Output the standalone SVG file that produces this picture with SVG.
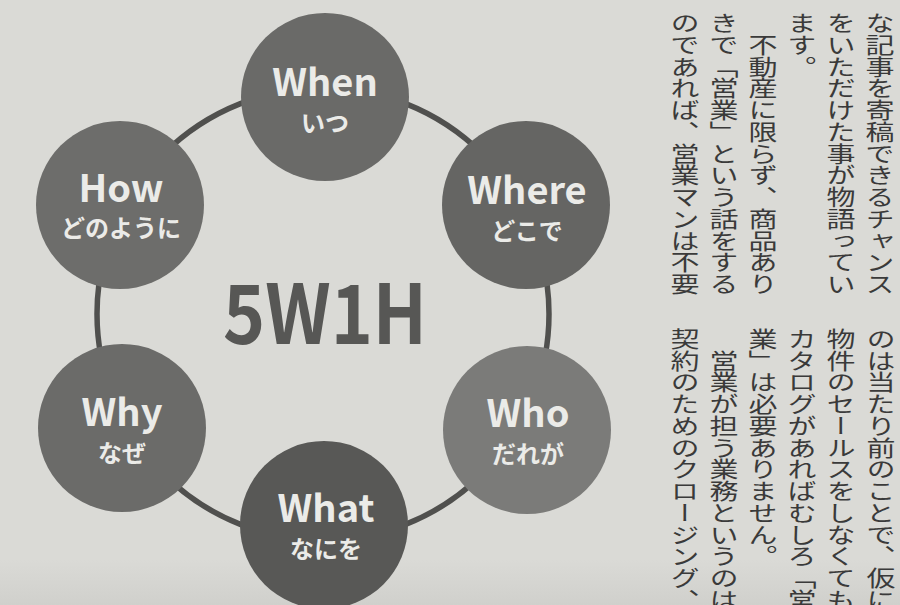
<svg xmlns="http://www.w3.org/2000/svg" width="900" height="605" viewBox="0 0 900 605">
<defs>
<style>
.node circle{stroke:none}
.en{font-family:"Noto Sans CJK JP","Open Sans",sans-serif;font-weight:700;font-size:38px;fill:#ebebe8;text-anchor:middle}
.ja{font-family:"Noto Sans CJK JP",sans-serif;font-weight:700;font-size:24px;fill:#ebebe8;text-anchor:middle}
.title{font-family:"Noto Sans CJK JP","Open Sans",sans-serif;font-weight:700;font-size:82px;fill:#575755;text-anchor:middle}
.body text{font-family:"Noto Sans CJK JP",sans-serif;font-size:29px;fill:#3a3a3a;writing-mode:vertical-rl}
</style>
<linearGradient id="band" x1="0" y1="0" x2="0" y2="1">
<stop offset="0" stop-color="#c6c6c2" stop-opacity="0"/>
<stop offset="1" stop-color="#c6c6c2" stop-opacity="0.5"/>
</linearGradient>
</defs>
<rect width="900" height="605" fill="#dadad6"/>
<rect x="0" y="560" width="900" height="45" fill="url(#band)"/>

<g id="connectors">
<circle cx="323" cy="314" r="226" fill="none" stroke="#50504e" stroke-width="5.5"/>
</g>

<text class="title" x="325" y="344" textLength="204" lengthAdjust="spacingAndGlyphs">5W1H</text>

<g id="node-when" class="node">
<circle cx="325" cy="97" r="84" fill="#6a6a68"/>
<text class="en" x="325" y="96">When</text>
<text class="ja" x="325" y="132">いつ</text>
</g>
<g id="node-where" class="node">
<circle cx="526" cy="205" r="84" fill="#656563"/>
<text class="en" x="527" y="204">Where</text>
<text class="ja" x="527" y="240">どこで</text>
</g>
<g id="node-who" class="node">
<circle cx="527" cy="430" r="84" fill="#7b7b79"/>
<text class="en" x="528" y="427">Who</text>
<text class="ja" x="528" y="463">だれが</text>
</g>
<g id="node-what" class="node">
<circle cx="324" cy="525" r="84" fill="#585856"/>
<text class="en" x="326" y="522">What</text>
<text class="ja" x="326" y="558">なにを</text>
</g>
<g id="node-why" class="node">
<circle cx="122" cy="428" r="84" fill="#6b6b69"/>
<text class="en" x="122" y="426">Why</text>
<text class="ja" x="122" y="462">なぜ</text>
</g>
<g id="node-how" class="node">
<circle cx="120" cy="205" r="84" fill="#6d6d6b"/>
<text class="en" x="121" y="202">How</text>
<text class="ja" x="121" y="237">どのように</text>
</g>

<g class="body" transform="scale(1,0.75)">
<text x="880" y="16">な記事を寄稿できるチャンス</text>
<text x="841" y="16">をいただけた事が物語ってい</text>
<text x="802" y="16">ます。</text>
<text x="763" y="45">不動産に限らず、商品あり</text>
<text x="724" y="16">きで「営業」という話をする</text>
<text x="685" y="16">のであれば、営業マンは不要</text>
<text x="881" y="437">のは当たり前のことで、仮に</text>
<text x="841" y="437">物件のセールスをしなくても</text>
<text x="802" y="437">カタログがあればむしろ「営</text>
<text x="763" y="437">業」は必要ありません。</text>
<text x="724" y="466">営業が担う業務というのは</text>
<text x="685" y="437">契約のためのクロージング、</text>
</g>
</svg>
